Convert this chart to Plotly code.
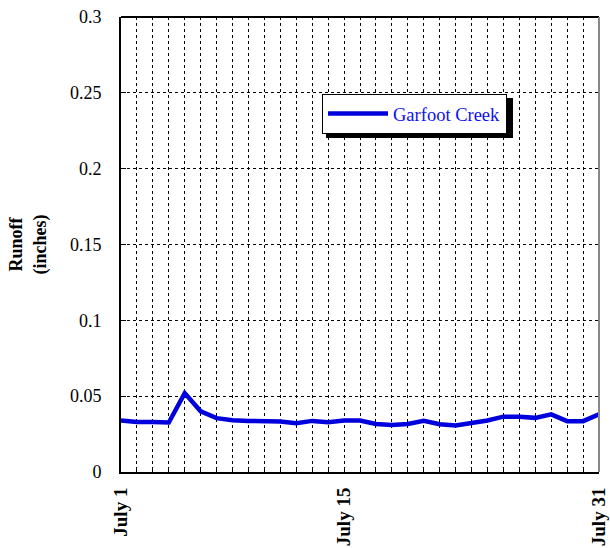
import plotly.graph_objects as go

days = list(range(1, 32))
runoff = [0.034, 0.033, 0.033, 0.0326, 0.052, 0.040, 0.0355, 0.0341, 0.0337, 0.0337,
          0.0333, 0.0322, 0.0337, 0.0328, 0.034, 0.034, 0.0317, 0.031, 0.0317, 0.0337,
          0.0315, 0.0306, 0.032, 0.034, 0.0365, 0.0365, 0.0357, 0.038, 0.0335, 0.0335, 0.038]
series_name = "Garfoot Creek"
x_labels = {1: "July 1", 15: "July 15", 31: "July 31"}
y_ticks = [0, 0.05, 0.1, 0.15, 0.2, 0.25, 0.3]
y_ticklabels = ["0", "0.05", "0.1", "0.15", "0.2", "0.25", "0.3"]

font = "Liberation Serif, Times New Roman, serif"
blue = "#0000DD"

W, H = 610, 548
L, R, T, B = 121, 11, 17, 76
pw, ph = W - L - R, H - T - B


def px_x(x):
    return (x - L) / pw


def px_y(y):
    return 1 - (y - T) / ph


fig = go.Figure()
fig.add_trace(go.Scatter(x=days, y=runoff, mode="lines", name=series_name,
                         line=dict(color=blue, width=4.5), showlegend=True))

fig.update_layout(
    width=W, height=H,
    margin=dict(l=L, r=R, t=T, b=B, autoexpand=False),
    paper_bgcolor="white", plot_bgcolor="white",
    font=dict(family=font, color="black", size=18),
    showlegend=True,
    legend=dict(x=px_x(322), y=px_y(94), xanchor="left", yanchor="top",
                bgcolor="white", bordercolor="black", borderwidth=1,
                font=dict(family=font, size=18.5, color="#1010EE"),
                itemwidth=60, tracegroupgap=0),
    xaxis=dict(range=[1, 31], tickmode="array", tickvals=days,
               ticktext=["<b>" + x_labels[d] + "</b>" if d in x_labels else "" for d in days],
               tickangle=-90, ticks="inside", ticklen=5, tickcolor="black",
               ticklabelstandoff=6,
               showgrid=True, gridcolor="black", griddash="dot", gridwidth=1,
               showline=True, linecolor="black", linewidth=2, zeroline=False,
               automargin=False,
               tickfont=dict(family=font, size=19, color="black")),
    yaxis=dict(range=[0, 0.3], tickmode="array", tickvals=y_ticks, ticktext=y_ticklabels,
               ticks="inside", ticklen=5, tickcolor="black",
               ticklabelstandoff=14,
               showgrid=True, gridcolor="black", griddash="dot", gridwidth=1,
               showline=True, linecolor="black", linewidth=2, zeroline=False,
               automargin=False,
               title=dict(text="<b>Runoff<br>(inches)</b>", standoff=19,
                          font=dict(family=font, size=18, color="black")),
               tickfont=dict(family=font, size=18, color="black")),
)

# top border (black) and right border (gray)
fig.add_shape(type="line", xref="paper", yref="paper", x0=0, x1=1, y0=1, y1=1,
              line=dict(color="black", width=2))
fig.add_shape(type="line", xref="paper", yref="paper", x0=1, x1=1, y0=0, y1=1,
              line=dict(color="#888888", width=2))
# legend shadow
fig.add_shape(type="rect", xref="paper", yref="paper",
              x0=px_x(326), x1=px_x(513), y0=px_y(138), y1=px_y(98),
              line=dict(width=0), fillcolor="black", layer="above")

fig.write_html("out.html", config={"displayModeBar": False},
               post_script="document.body.style.margin='0';document.body.style.overflow='hidden';")
